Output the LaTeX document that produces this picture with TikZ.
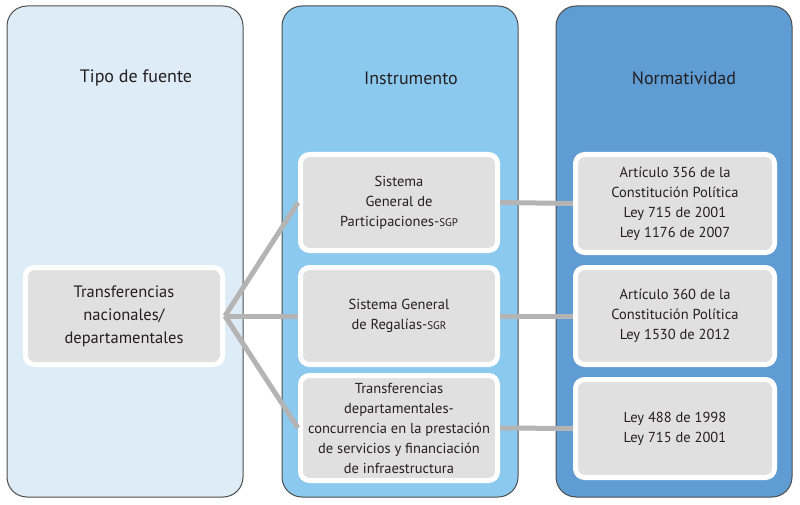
\documentclass[tikz,border=0pt]{standalone}
\usepackage{fontspec}
\setmainfont{PT Sans}
\definecolor{panelA}{HTML}{DEECF8}
\definecolor{panelB}{HTML}{8CC9EF}
\definecolor{panelC}{HTML}{5F9CD4}
\definecolor{boxgray}{HTML}{E1E0E0}
\definecolor{linegray}{HTML}{B4B4B4}
\definecolor{edge}{HTML}{4D4D4D}
\definecolor{ink}{HTML}{231F20}
\tikzset{
  panel/.style={draw=edge, line width=1pt, rounded corners=20pt},
  title/.style={text=ink, font=\fontsize{18}{20}\selectfont, inner sep=0pt},
  itembox/.style={fill=boxgray, draw=white, line width=5pt, rounded corners=9pt,
    align=center, text=ink, inner sep=0pt, font=\fontsize{14.5}{20}\selectfont},
  link/.style={draw=linegray, line width=5pt}
}
\newcommand{\abbr}[1]{{\fontsize{11}{20}\selectfont #1}}
\begin{document}
\begin{tikzpicture}[x=1pt,y=-1pt]
\useasboundingbox (0,0) rectangle (800,505);
\fill[white] (0,0) rectangle (800,505);
% panels
\draw[panel, fill=panelA] (7,6) rectangle (243,497);
\draw[panel, fill=panelB] (282,6) rectangle (518,497);
\draw[panel, fill=panelC] (556,6) rectangle (792,497);
\node[title] (t1) at (136,78) {Tipo de fuente};
\node[title] (t2) at (411,78) {Instrumento};
\node[title] (t3) at (684,78) {Normatividad};
% boxes
\node[itembox, minimum width=197pt, minimum height=97pt, font=\fontsize{16.5}{23}\selectfont] (L) at (124,316)
  {Transferencias\\nacionales/\\departamentales};
\node[itembox, minimum width=197pt, minimum height=96pt] (M1) at (399,202.5)
  {Sistema\\ General de\\Participaciones-\abbr{SGP}};
\node[itembox, minimum width=197pt, minimum height=97pt] (M2) at (399,316)
  {Sistema General\\de Regalías-\abbr{SGR}};
\node[itembox, minimum width=197pt, minimum height=105pt] (M3) at (399,428)
  {Transferencias\\departamentales-\\concurrencia en la prestación\\de servicios y financiación\\de infraestructura};
\node[itembox, minimum width=199pt, minimum height=98pt] (R1) at (675,203.5)
  {Artículo 356 de la\\Constitución Política\\Ley 715 de 2001\\Ley 1176 de 2007};
\node[itembox, minimum width=199pt, minimum height=97pt] (R2) at (675,316)
  {Artículo 360 de la\\Constitución Política\\Ley 1530 de 2012};
\node[itembox, minimum width=199pt, minimum height=98pt] (R3) at (675,428.5)
  {Ley 488 de 1998\\Ley 715 de 2001};
% connectors
\draw[link] (L.east) -- (M1.west);
\draw[link] (L.east) -- (M2.west);
\draw[link] (L.east) -- (M3.west);
\draw[link] (M1.east) -- (R1.west);
\draw[link] (M2.east) -- (R2.west);
\draw[link] (M3.east) -- (R3.west);
\end{tikzpicture}
\end{document}
